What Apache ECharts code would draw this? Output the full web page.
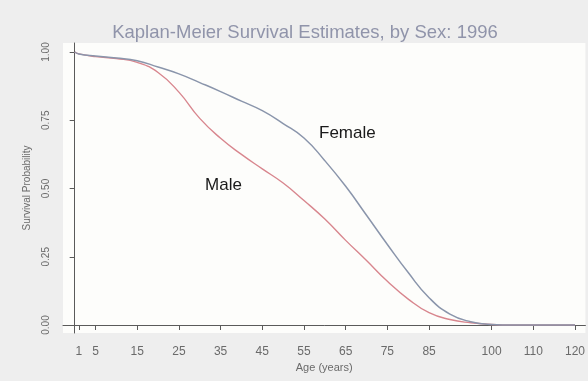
<!DOCTYPE html>
<html>
<head>
<meta charset="utf-8">
<script src="https://cdn.jsdelivr.net/npm/echarts@6/dist/echarts.min.js"></script>
<style>
  html, body { margin: 0; padding: 0; background: #eeeeee; }
  #chart { width: 588px; height: 381px; }
</style>
</head>
<body>
<div id="chart"></div>
<script>
// Age in years at which survival is sampled
const ages = [0, 1, 5, 10, 15, 20, 25, 30, 35, 40, 45, 50, 55, 60, 65, 70, 75, 80, 85, 90, 95, 100, 105, 110, 115, 120];
// Kaplan-Meier survival probability, females
const femaleSurv = [1.000, 0.993, 0.985, 0.978, 0.968, 0.945, 0.920, 0.888, 0.855, 0.820, 0.785, 0.738, 0.685, 0.602, 0.508, 0.402, 0.295, 0.192, 0.100, 0.040, 0.012, 0.002, 0, 0, 0, 0];
// Kaplan-Meier survival probability, males
const maleSurv = [1.000, 0.993, 0.983, 0.976, 0.962, 0.925, 0.853, 0.757, 0.684, 0.625, 0.572, 0.520, 0.456, 0.388, 0.310, 0.236, 0.160, 0.095, 0.045, 0.020, 0.008, 0.002, 0, 0, 0, 0];
// Axis tick values
const xTicks = [1, 5, 15, 25, 35, 45, 55, 65, 75, 85, 100, 110, 120];
const yTicks = [0, 0.25, 0.5, 0.75, 1];
// Where the in-plot curve names sit (age, probability)
const femaleTag = [65.4, 0.703];
const maleTag = [35.7, 0.513];

const pair = (ys) => ages.map((a, i) => [a, ys[i]]);
const axisGray = '#5a5a5a';
const labelGray = '#6a6a6a';
const font = 'Liberation Sans, Arial, sans-serif';

const chart = echarts.init(document.getElementById('chart'), null, { renderer: 'canvas' });
chart.setOption({
  backgroundColor: '#eeeeee',
  animation: false,
  title: {
    text: 'Kaplan-Meier Survival Estimates, by Sex: 1996',
    left: 300, top: 18, textAlign: 'center',
    textStyle: { fontFamily: font, fontSize: 18.5, fontWeight: 'normal', color: '#9094aa' }
  },
  grid: {
    left: 63, right: 1, top: 43, bottom: 48,
    show: true, backgroundColor: '#fdfdfb', borderWidth: 0
  },
  xAxis: {
    type: 'value', min: -2.8, max: 122.5,
    name: 'Age (years)', nameLocation: 'middle', nameGap: 27,
    nameTextStyle: { fontFamily: font, fontSize: 11, color: labelGray },
    axisLine: { show: true, lineStyle: { color: axisGray, width: 1 } },
    axisTick: { show: true, customValues: xTicks, length: 5, lineStyle: { color: axisGray } },
    axisLabel: { customValues: xTicks, margin: 13, fontFamily: font, fontSize: 12, color: labelGray },
    splitLine: { show: false }
  },
  yAxis: {
    type: 'value', min: -0.0293, max: 1.033,
    name: 'Survival Probability', nameLocation: 'middle', nameGap: 31, nameRotate: 90,
    nameTextStyle: { fontFamily: font, fontSize: 10, color: labelGray },
    axisLine: { show: true, lineStyle: { color: axisGray, width: 1 } },
    axisTick: { show: true, customValues: yTicks, length: 5, lineStyle: { color: axisGray } },
    axisLabel: {
      customValues: yTicks, rotate: 90, margin: 12,
      fontFamily: font, fontSize: 10, color: labelGray,
      formatter: (v) => v.toFixed(2)
    },
    splitLine: { show: false }
  },
  series: [
    {
      name: 'Male', type: 'line', data: pair(maleSurv),
      showSymbol: false, smooth: 0.5,
      lineStyle: { color: '#d8868e', width: 1.4 },
      markPoint: {
        symbol: 'circle', symbolSize: 0,
        label: { show: true, position: 'inside', formatter: 'Male', fontFamily: font, fontSize: 17, color: '#1a1a1a' },
        data: [{ coord: maleTag }]
      }
    },
    {
      name: 'Female', type: 'line', data: pair(femaleSurv),
      showSymbol: false, smooth: 0.5,
      lineStyle: { color: '#8a95ab', width: 1.5 },
      markPoint: {
        symbol: 'circle', symbolSize: 0,
        label: { show: true, position: 'inside', formatter: 'Female', fontFamily: font, fontSize: 17, color: '#1a1a1a' },
        data: [{ coord: femaleTag }]
      }
    }
  ]
});
</script>
</body>
</html>
